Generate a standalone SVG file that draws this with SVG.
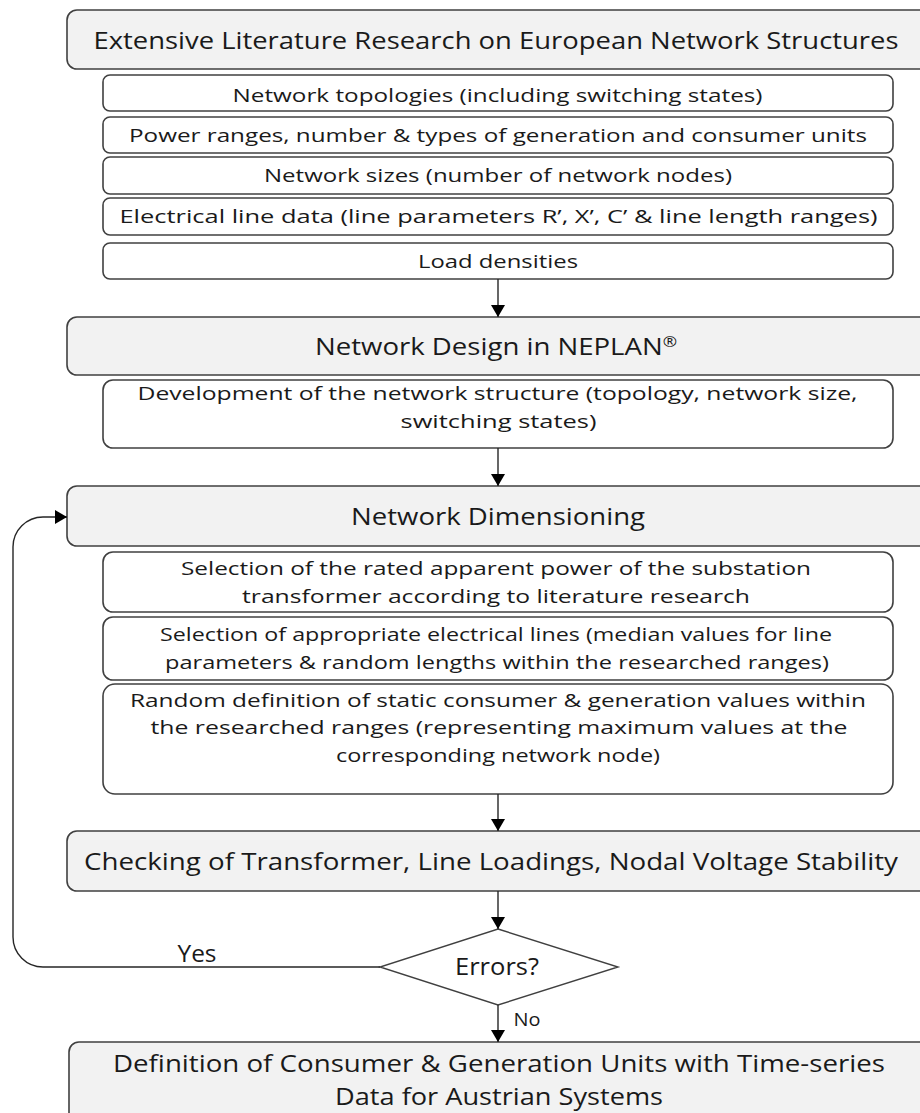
<svg xmlns="http://www.w3.org/2000/svg" width="920" height="1113" viewBox="0 0 920 1113">
  <style>
    .hdr { fill: #f2f2f2; stroke: #404040; stroke-width: 1.6; }
    .sub { fill: #ffffff; stroke: #404040; stroke-width: 1.6; }
    .dec { fill: #ffffff; stroke: #404040; stroke-width: 1.4; }
    .big { font-family: "Open Sans", "Noto Sans", sans-serif; font-size: 24px; fill: #1a1a1a; text-anchor: middle; }
    .sml { font-family: "Open Sans", "Noto Sans", sans-serif; font-size: 19px; fill: #1a1a1a; text-anchor: middle; }
    .wire { fill: none; stroke: #262626; stroke-width: 1.4; }
  </style>
  <defs>
    <marker id="head" viewBox="0 0 12 14" refX="12" refY="7" markerWidth="12" markerHeight="14" markerUnits="userSpaceOnUse" orient="auto">
      <path d="M0,0 L12,7 L0,14 Z" fill="#000000"/>
    </marker>
  </defs>

  <rect width="920" height="1113" fill="#ffffff"/>

  <!-- literature research stage -->
  <g id="literature">
    <rect class="hdr" x="67" y="10" width="864" height="59" rx="10"/>
    <text class="big" x="496" y="49" textLength="805" lengthAdjust="spacingAndGlyphs">Extensive Literature Research on European Network Structures</text>
  </g>
  <g id="topologies">
    <rect class="sub" x="103" y="75" width="790" height="36" rx="7"/>
    <text class="sml" x="497.5" y="101.5" textLength="530" lengthAdjust="spacingAndGlyphs">Network topologies (including switching states)</text>
  </g>
  <g id="power-ranges">
    <rect class="sub" x="103" y="117" width="790" height="36" rx="7"/>
    <text class="sml" x="498" y="141.5" textLength="738" lengthAdjust="spacingAndGlyphs">Power ranges, number &amp; types of generation and consumer units</text>
  </g>
  <g id="network-sizes">
    <rect class="sub" x="103" y="157" width="790" height="37" rx="7"/>
    <text class="sml" x="498" y="182" textLength="468" lengthAdjust="spacingAndGlyphs">Network sizes (number of network nodes)</text>
  </g>
  <g id="line-data">
    <rect class="sub" x="103" y="198" width="790" height="37" rx="7"/>
    <text class="sml" x="498.5" y="223" textLength="758" lengthAdjust="spacingAndGlyphs">Electrical line data (line parameters R’, X’, C’ &amp; line length ranges)</text>
  </g>
  <g id="load-densities">
    <rect class="sub" x="103" y="243" width="790" height="36" rx="7"/>
    <text class="sml" x="498" y="267.5" textLength="160" lengthAdjust="spacingAndGlyphs">Load densities</text>
  </g>

  <!-- network design stage -->
  <g id="network-design">
    <rect class="hdr" x="67" y="317" width="864" height="58" rx="10"/>
    <text class="big" x="496" y="354.5" textLength="362" lengthAdjust="spacingAndGlyphs">Network Design in NEPLAN<tspan font-size="15" dy="-8">®</tspan></text>
  </g>
  <g id="development">
    <rect class="sub" x="103" y="380" width="790" height="68" rx="10"/>
    <text class="sml" x="497.5" y="400" textLength="720" lengthAdjust="spacingAndGlyphs">Development of the network structure (topology, network size,</text>
    <text class="sml" x="498.5" y="428" textLength="196" lengthAdjust="spacingAndGlyphs">switching states)</text>
  </g>

  <!-- dimensioning stage -->
  <g id="dimensioning">
    <rect class="hdr" x="67" y="486" width="864" height="60" rx="10"/>
    <text class="big" x="498" y="524.5" textLength="294" lengthAdjust="spacingAndGlyphs">Network Dimensioning</text>
  </g>
  <g id="transformer-rating">
    <rect class="sub" x="103" y="552" width="790" height="60" rx="10"/>
    <text class="sml" x="496" y="575" textLength="630" lengthAdjust="spacingAndGlyphs">Selection of the rated apparent power of the substation</text>
    <text class="sml" x="496" y="603" textLength="508" lengthAdjust="spacingAndGlyphs">transformer according to literature research</text>
  </g>
  <g id="line-selection">
    <rect class="sub" x="103" y="617" width="790" height="63" rx="10"/>
    <text class="sml" x="496" y="641" textLength="672" lengthAdjust="spacingAndGlyphs">Selection of appropriate electrical lines (median values for line</text>
    <text class="sml" x="497" y="669" textLength="664" lengthAdjust="spacingAndGlyphs">parameters &amp; random lengths within the researched ranges)</text>
  </g>
  <g id="random-values">
    <rect class="sub" x="103" y="684" width="790" height="110" rx="12"/>
    <text class="sml" x="498" y="707" textLength="736" lengthAdjust="spacingAndGlyphs">Random definition of static consumer &amp; generation values within</text>
    <text class="sml" x="499" y="734" textLength="697" lengthAdjust="spacingAndGlyphs">the researched ranges (representing maximum values at the</text>
    <text class="sml" x="498" y="762" textLength="324" lengthAdjust="spacingAndGlyphs">corresponding network node)</text>
  </g>

  <!-- checking stage -->
  <g id="checking">
    <rect class="hdr" x="67" y="831" width="864" height="60" rx="10"/>
    <text class="big" x="491" y="869.5" textLength="814" lengthAdjust="spacingAndGlyphs">Checking of Transformer, Line Loadings, Nodal Voltage Stability</text>
  </g>
  <g id="errors">
    <path class="dec" d="M498,929 L618,967 L498,1005 L380,967 Z"/>
    <text class="big" x="497" y="975" textLength="84" lengthAdjust="spacingAndGlyphs">Errors?</text>
  </g>

  <!-- time-series definition stage -->
  <g id="time-series">
    <rect class="hdr" x="69" y="1042" width="862" height="90" rx="10"/>
    <text class="big" x="499" y="1072" textLength="772" lengthAdjust="spacingAndGlyphs">Definition of Consumer &amp; Generation Units with Time-series</text>
    <text class="big" x="499" y="1105" textLength="328" lengthAdjust="spacingAndGlyphs">Data for Austrian Systems</text>
  </g>

  <!-- connectors -->
  <g id="connectors">
    <path class="wire" d="M498,279 V317" marker-end="url(#head)"/>
    <path class="wire" d="M498,448 V486" marker-end="url(#head)"/>
    <path class="wire" d="M498,794 V831" marker-end="url(#head)"/>
    <path class="wire" d="M498,891 V929" marker-end="url(#head)"/>
    <path class="wire" d="M498,1005 V1042" marker-end="url(#head)"/>
    <path class="wire" d="M380,967 H43 A30,30 0 0 1 13,937 V547 A30,30 0 0 1 43,517 H67" marker-end="url(#head)"/>
    <text class="big" x="197" y="962" textLength="39" lengthAdjust="spacingAndGlyphs">Yes</text>
    <text class="sml" x="527" y="1026" textLength="27" lengthAdjust="spacingAndGlyphs">No</text>
  </g>
</svg>
